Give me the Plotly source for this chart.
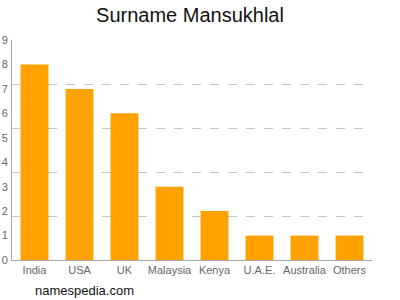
import plotly.graph_objects as go

categories = ["India", "USA", "UK", "Malaysia", "Kenya", "U.A.E.", "Australia", "Others"]
values = [8, 7, 6, 3, 2, 1, 1, 1]
y_ticks = [0, 1, 2, 3, 4, 5, 6, 7, 8, 9]
grid_vals = [1.8, 3.6, 5.4, 7.2, 9]

fig = go.Figure()
fig.add_trace(go.Bar(x=categories, y=values, marker=dict(color="#FFA200", line=dict(width=0)),
                     hoverinfo="skip"))
# invisible trace to bind secondary grid axis
fig.add_trace(go.Scatter(x=[categories[0]], y=[0], yaxis="y2", mode="markers",
                         marker=dict(opacity=0), showlegend=False, hoverinfo="skip"))

fig.update_layout(
    width=400, height=300,
    margin=dict(l=12, r=28, t=40, b=40),
    paper_bgcolor="white", plot_bgcolor="white",
    showlegend=False,
    bargap=0.38,
    font=dict(family="Liberation Sans, Arial, sans-serif", color="#666666", size=11),
    title=dict(text="Surname Mansukhlal", x=0.475, xanchor="center", y=0.95, yanchor="middle",
               font=dict(size=20, color="#111111", family="Liberation Sans, Arial, sans-serif")),
    xaxis=dict(showline=True, linecolor="#aaaaaa", linewidth=1, showgrid=False,
               ticks="", tickfont=dict(size=11, color="#666666"), fixedrange=True),
    yaxis=dict(range=[0, 9], tickvals=y_ticks, showgrid=False, zeroline=False,
               showline=True, linecolor="#aaaaaa", linewidth=1,
               ticks="", ticklabelstandoff=1,
               tickfont=dict(size=11, color="#666666"), automargin=False),
    yaxis2=dict(range=[0, 9], overlaying="y", tickvals=grid_vals, showgrid=True,
                gridcolor="#c4c4c4", griddash="dash", gridwidth=1,
                showticklabels=False, zeroline=False, showline=False),
)

fig.add_annotation(text="namespedia.com", xref="paper", yref="paper", x=0.058, y=-0.14,
                   xanchor="left", yanchor="middle", showarrow=False,
                   font=dict(size=13, color="#111111"))

fig.write_html("out.html")
